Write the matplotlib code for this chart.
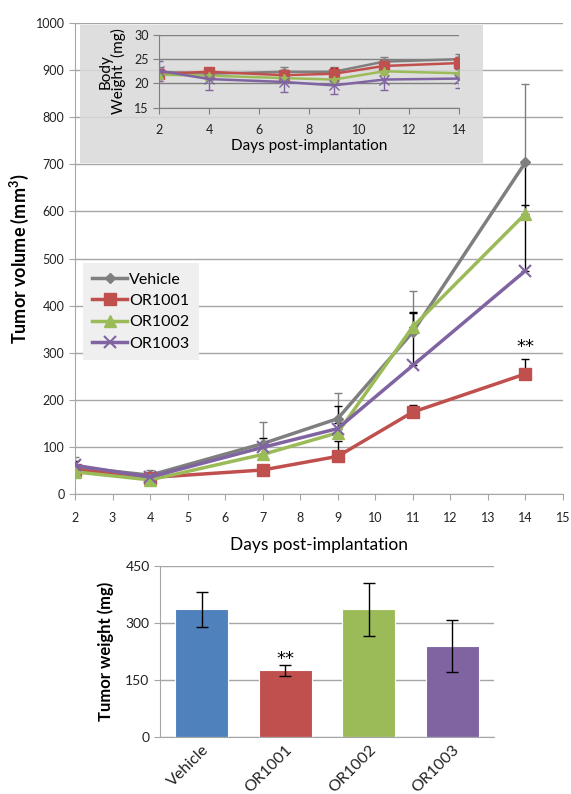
import numpy as np
import matplotlib.pyplot as plt
from matplotlib.patches import Rectangle

plt.rcParams['font.family'] = ['Lato', 'DejaVu Sans']

# tumor volume (mm3)
days = [2, 4, 7, 9, 11, 14]
groups = ['Vehicle', 'OR1001', 'OR1002', 'OR1003']
vol_vehicle = [57, 40, 107, 160, 344, 704]
vol_or1001 = [51, 35, 51, 80, 174, 255]
vol_or1002 = [47, 30, 84, 130, 355, 595]
vol_or1003 = [61, 36, 99, 139, 273, 474]
err_vehicle = [22, 11, 46, 55, 88, 166]
err_or1001 = [5, 5, 5, 32, 14, 31]
err_or1002 = [10, 8, 15, 20, 31, 110]
err_or1003 = [10, 8, 21, 47, 111, 140]

# body weight (inset)
bw_vehicle = [22.4, 22.0, 22.4, 22.4, 24.5, 25.0]
bw_or1001 = [22.0, 22.4, 21.7, 22.0, 23.6, 24.2]
bw_or1002 = [21.8, 21.6, 21.1, 20.8, 22.5, 22.1]
bw_or1003 = [22.6, 20.9, 20.3, 19.6, 20.8, 21.0]
bw_err_vehicle = [1.0, 0.8, 1.0, 1.0, 1.0, 1.0]
bw_err_or1001 = [0.8, 0.8, 1.0, 1.2, 1.2, 1.2]
bw_err_or1002 = [0.8, 0.8, 0.8, 0.8, 0.8, 0.8]
bw_err_or1003 = [2.0, 2.2, 2.0, 1.7, 2.1, 2.0]

# tumor weight (mg)
tw_mean = [336, 175, 336, 239]
tw_err = [46, 15, 70, 68]

line_colors = ['#7f7f7f', '#c0504d', '#9bbb59', '#8064a2']
bar_colors = ['#4f81bd', '#c0504d', '#9bbb59', '#8064a2']
markers = ['D', 's', '^', 'x']
msizes = [5, 9, 8, 9]
err_colors = ['#7f7f7f', 'black', 'black', 'black']

vols = [vol_vehicle, vol_or1001, vol_or1002, vol_or1003]
errs = [err_vehicle, err_or1001, err_or1002, err_or1003]
bws = [bw_vehicle, bw_or1001, bw_or1002, bw_or1003]
bw_errs = [bw_err_vehicle, bw_err_or1001, bw_err_or1002, bw_err_or1003]

fig = plt.figure(figsize=(5.71, 7.94), dpi=100)
grid_c = '#a6a6a6'
star_font = ['DejaVu Sans']

# main tumor volume plot
ax = fig.add_axes([0.1313, 0.3778, 0.8545, 0.5932])
for i in range(4):
    ax.errorbar(days, vols[i], yerr=[np.zeros(6), errs[i]], fmt='none',
                ecolor=err_colors[i], elinewidth=1, capsize=3, zorder=2)
for i in range(4):
    ax.plot(days, vols[i], color=line_colors[i], lw=2.5, marker=markers[i],
            ms=msizes[i], mew=1.5 if markers[i] == 'x' else 1,
            mec=line_colors[i], label=groups[i], zorder=3)
ax.text(14, 312, '**', ha='center', va='center', fontsize=13, family=star_font)
ax.set_xlim(2, 15)
ax.set_ylim(0, 1000)
ax.set_xticks(range(2, 16))
ax.set_yticks(range(0, 1001, 100))
ax.yaxis.grid(True, color=grid_c, lw=1)
ax.set_axisbelow(True)
for s in ['top', 'right']:
    ax.spines[s].set_visible(False)
for s in ['left', 'bottom']:
    ax.spines[s].set_color(grid_c)
ax.tick_params(colors=grid_c, labelcolor='#222222', labelsize=9, length=4)
ax.tick_params(axis='x', pad=9)
ax.set_xlabel('Days post-implantation', fontsize=12.5, labelpad=9)
ax.set_ylabel('Tumor volume (mm$^\\mathregular{3}$)', fontsize=13, fontweight='bold', labelpad=3)
leg = ax.legend(loc='upper left', bbox_to_anchor=(0.0157, 0.491), borderaxespad=0,
                fontsize=11.5, frameon=True, fancybox=False, handlelength=2.2,
                handletextpad=0.1, labelspacing=0.45, borderpad=0.6)
leg.get_frame().set_facecolor('#efefef')
leg.get_frame().set_edgecolor('none')
leg.get_frame().set_alpha(1)

# grey box behind inset
fig.patches.append(Rectangle((80 / 571, (794 - 162.5) / 794), 403 / 571, 137.5 / 794,
                             transform=fig.transFigure, facecolor='#d9d9d9',
                             edgecolor='none', alpha=0.85, zorder=1))

# inset body weight plot
axi = fig.add_axes([0.2785, 0.8644, 0.5254, 0.0916], zorder=2)
axi.set_facecolor('none')
for i in range(4):
    axi.errorbar(days, bws[i], yerr=bw_errs[i], fmt='none',
                 ecolor=line_colors[i] if i != 1 else '#e00000', elinewidth=1, capsize=3)
for i in range(4):
    axi.plot(days, bws[i], color=line_colors[i], lw=1.8, marker=markers[i],
             ms=msizes[i] * 0.8, mec=line_colors[i])
axi.set_xlim(2, 14)
axi.set_ylim(15, 30)
axi.set_xticks(range(2, 15, 2))
axi.set_yticks([15, 20, 25, 30])
axi.yaxis.grid(True, color='#7f7f7f', lw=1)
axi.set_axisbelow(True)
for s in ['top', 'right']:
    axi.spines[s].set_visible(False)
for s in ['left', 'bottom']:
    axi.spines[s].set_color('#7f7f7f')
axi.tick_params(colors='#7f7f7f', labelcolor='#222222', labelsize=9, length=4)
axi.tick_params(axis='x', pad=8)
axi.set_xlabel('Days post-implantation', fontsize=11, labelpad=2)
axi.set_ylabel('Body\nWeight  (mg)', fontsize=11, labelpad=6, linespacing=0.85)

# tumor weight bar chart
axb = fig.add_axes([0.2802, 0.0718, 0.585, 0.2154])
xb = np.arange(len(groups))
axb.bar(xb, tw_mean, width=0.64, color=bar_colors, edgecolor='white', lw=0.8,
        yerr=tw_err, capsize=4, error_kw=dict(elinewidth=1, ecolor='black'))
axb.text(xb[1], tw_mean[1] + tw_err[1] + 16, '**', ha='center', va='center',
         fontsize=13, family=star_font)
axb.set_xlim(-0.5, 3.5)
axb.set_ylim(0, 450)
axb.set_yticks([0, 150, 300, 450])
axb.set_xticks(xb)
axb.set_xticklabels(groups, rotation=45, ha='right', rotation_mode='anchor')
axb.yaxis.grid(True, color=grid_c, lw=1)
axb.set_axisbelow(True)
for s in ['top', 'right']:
    axb.spines[s].set_visible(False)
for s in ['left', 'bottom']:
    axb.spines[s].set_color(grid_c)
axb.tick_params(colors=grid_c, labelcolor='#222222', labelsize=10, length=4)
axb.tick_params(axis='x', length=0, pad=4, labelsize=11.5)
axb.set_ylabel('Tumor weight (mg)', fontsize=12, fontweight='bold', labelpad=8)

fig.savefig('out.png', dpi=100)
plt.close(fig)
